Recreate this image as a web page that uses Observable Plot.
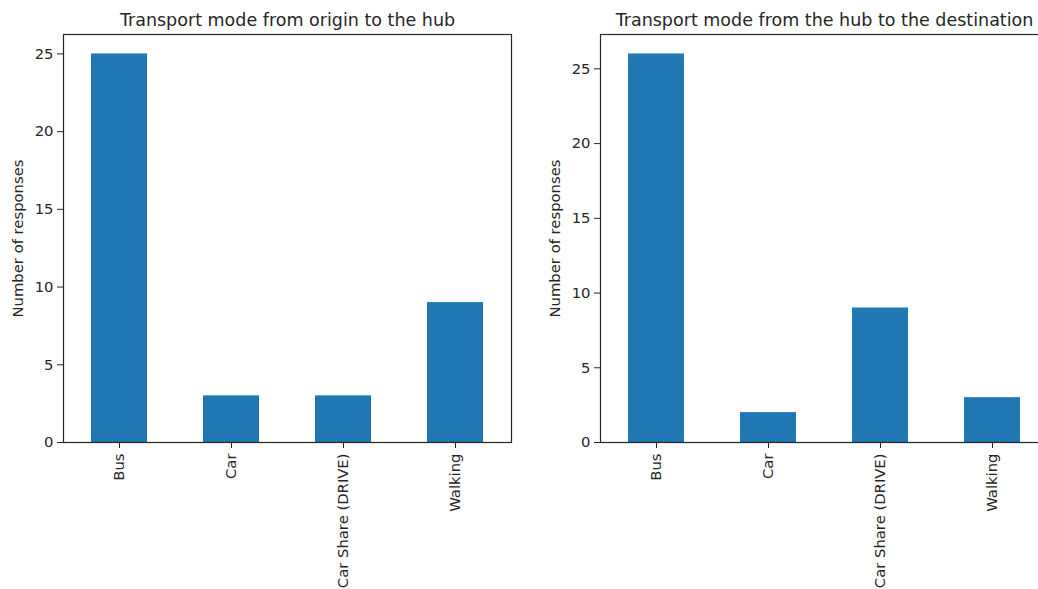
<!DOCTYPE html>
<html>
<head>
<meta charset="utf-8">
<script src="https://cdn.jsdelivr.net/npm/d3@7"></script>
<script src="https://cdn.jsdelivr.net/npm/@observablehq/plot@0.6"></script>
<style>
html, body { margin: 0; padding: 0; overflow: hidden; background: #fff; }
#wrap { position: relative; width: 1038px; height: 589px; overflow: hidden; }
#wrap > div, #wrap > svg { position: absolute; top: 0; }
</style>
</head>
<body>
<div id="wrap"></div>
<script>
const modes = ["Bus", "Car", "Car Share (DRIVE)", "Walking"];
const originCounts = [25, 3, 3, 9];
const destCounts = [26, 2, 9, 3];
const yTicks = [0, 5, 10, 15, 20, 25];
const titles = ["Transport mode from origin to the hub", "Transport mode from the hub to the destination"];
const yLabel = "Number of responses";

const FONT = "DejaVu Sans, sans-serif";
const BAR = "#1f77b4";
const INK = "#262626";

function panel(counts, title, left) {
  const data = modes.map((m, i) => ({mode: m, n: counts[i]}));
  const ymax = d3.max(counts) * 1.05;
  const svg = Plot.plot({
    width: 520,
    height: 589,
    marginLeft: 63,
    marginRight: 9,
    marginTop: 34,
    marginBottom: 147,
    style: {fontFamily: FONT, color: INK, background: "transparent", overflow: "visible"},
    x: {domain: modes, paddingInner: 0.5, paddingOuter: 0.25, label: null},
    y: {domain: [0, ymax], label: null},
    marks: [
      Plot.barY(data, {x: "mode", y: "n", fill: BAR}),
      Plot.axisX({tickRotate: -90, tickSize: 6, tickPadding: 5, fontSize: 14.8, label: null, stroke: INK, fill: INK}),
      Plot.axisY({ticks: yTicks, tickSize: 6, tickPadding: 4, fontSize: 14.8, label: null, stroke: INK, fill: INK}),
      Plot.frame({stroke: INK, strokeWidth: 1.2}),
      Plot.text([title], {frameAnchor: "top", lineAnchor: "middle", dy: -14, fontSize: 17.5, fill: INK}),
      Plot.text([yLabel], {frameAnchor: "left", textAnchor: "middle", lineAnchor: "middle", dx: -45, rotate: -90, fontSize: 14.8, fill: INK})
    ]
  });
  svg.style.left = left + "px";
  return svg;
}

const wrap = document.getElementById("wrap");
wrap.appendChild(panel(originCounts, titles[0], 0));
wrap.appendChild(panel(destCounts, titles[1], 537));
</script>
</body>
</html>
